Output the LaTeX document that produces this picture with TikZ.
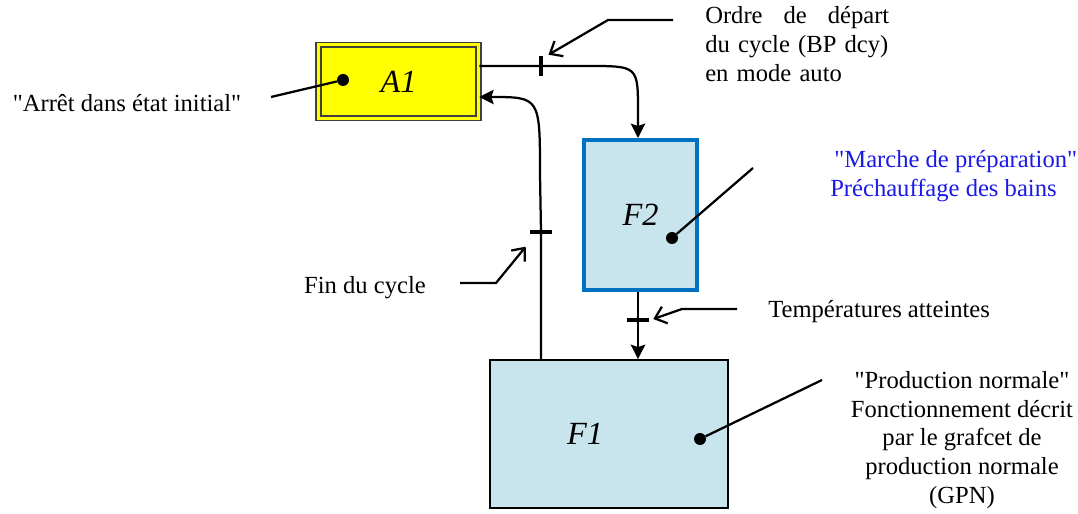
\documentclass[tikz,border=0pt]{standalone}
\usepackage{fontspec}
\setmainfont{Liberation Serif}
\usetikzlibrary{arrows.meta,positioning,calc}
\definecolor{gfYellow}{HTML}{FFFF00}
\definecolor{gfBlue}{HTML}{0070C0}
\definecolor{gfCyan}{HTML}{C8E4EC}
\definecolor{gfText}{HTML}{1A1AE6}
\definecolor{gfGray}{HTML}{404040}

\begin{document}
\begin{tikzpicture}[x=0.25mm, y=-0.25mm,
  font=\fontsize{17.5}{20.5}\selectfont,
  stepbox/.style={draw, fill=gfCyan, line width=1.3pt, inner sep=0pt, font=\fontsize{23}{23}\selectfont\itshape},
  initbox/.style={stepbox, fill=gfYellow, draw=gfGray, line width=1.1pt, double=gfYellow, double distance=2.2pt},
  vbar/.style={fill=black, inner sep=0pt, minimum width=1.1mm, minimum height=5mm},
  hbar/.style={fill=black, inner sep=0pt, minimum width=5.5mm, minimum height=1.2mm},
  tag/.style={circle, fill=black, inner sep=0pt, minimum size=3mm},
  link/.style={-{Stealth[length=3.6mm, width=3.6mm, inset=0.6mm]}, line width=1.6pt},
  note/.style={-{Straight Barb[length=2.6mm, width=4.4mm]}, line width=1.6pt},
  pin/.style={line width=1.6pt}
]
\useasboundingbox (0,0) rectangle (1078,514);
% steps
\node[initbox, minimum width=40mm, minimum height=18.3mm] (A1) at (398.5,81.5) {A1};
\node[stepbox, draw=gfBlue, line width=2.8pt, minimum width=28.3mm, minimum height=37.5mm] (F2) at (640.5,215) {F2};
\node[stepbox, minimum width=59.5mm, minimum height=37mm] (F1) at (609,434) {F1\hspace*{12mm}};
% transitions
\node[vbar] (t1) at (541,66) {};
\node[hbar] (t2) at (638,320) {};
\node[hbar] (t3) at (541,232) {};
% links
\draw[link] ($(A1.east)+(0,-15.5)$) -- (t1.center) -- (588,66) .. controls (638,66) .. (638,112) -- (F2.north -| t2);
\draw[link] (F2.south -| t2) -- (t2.center) -- (F1.north -| t2);
\draw[link] (F1.north -| t3) -- (t3.center) -- (540,175) .. controls (540,97) .. ($(A1.east)+(0,15.5)$);
% comments
\node (arret) at (127,103) {\textquotedbl Arrêt dans état initial\textquotedbl};
\node[anchor=north west, text width=46mm, align=left, inner sep=0pt] (ordre) at (705,6)
  {Ordre\hfill de\hfill départ\\du cycle (BP dcy)\\en mode auto};
\node[anchor=west, align=left, text=gfText, inner sep=0pt] (marche) at (830,176)
  {\,\textquotedbl Marche de préparation\textquotedbl\\Préchauffage des bains};
\node[anchor=west, inner sep=0pt] (temp) at (768,312) {Températures atteintes};
\node (fin) at (365,288) {Fin du cycle};
\node[align=center] (prod) at (962,440)
  {\textquotedbl Production normale\textquotedbl\\Fonctionnement décrit\\par le grafcet de\\production normale\\(GPN)};
% pins and pointers
\node[tag] (dA1) at (343,80) {};
\node[tag] (dF2) at (672,238) {};
\node[tag] (dF1) at (700,439) {};
\coordinate (pA1) at (271,97);
\coordinate (pF2) at (753,168);
\coordinate (pF1) at (822,380);
\draw[pin] (pA1) -- (dA1);
\draw[pin] (pF2) -- (dF2);
\draw[pin] (pF1) -- (dF1);
\coordinate (qOrdre) at (673,20);
\coordinate (qTemp) at (737,309);
\coordinate (qFin) at (460,283);
\draw[note] (qOrdre) -- (608,20) -- ($(t1.north east)+(5,-1)$);
\draw[note] (qTemp) -- (682,309) -- ($(t2.east)+(4,-1)$);
\draw[note] (qFin) -- (496,283) -- ($(t3.south west)+(-4,12)$);
\end{tikzpicture}
\end{document}
